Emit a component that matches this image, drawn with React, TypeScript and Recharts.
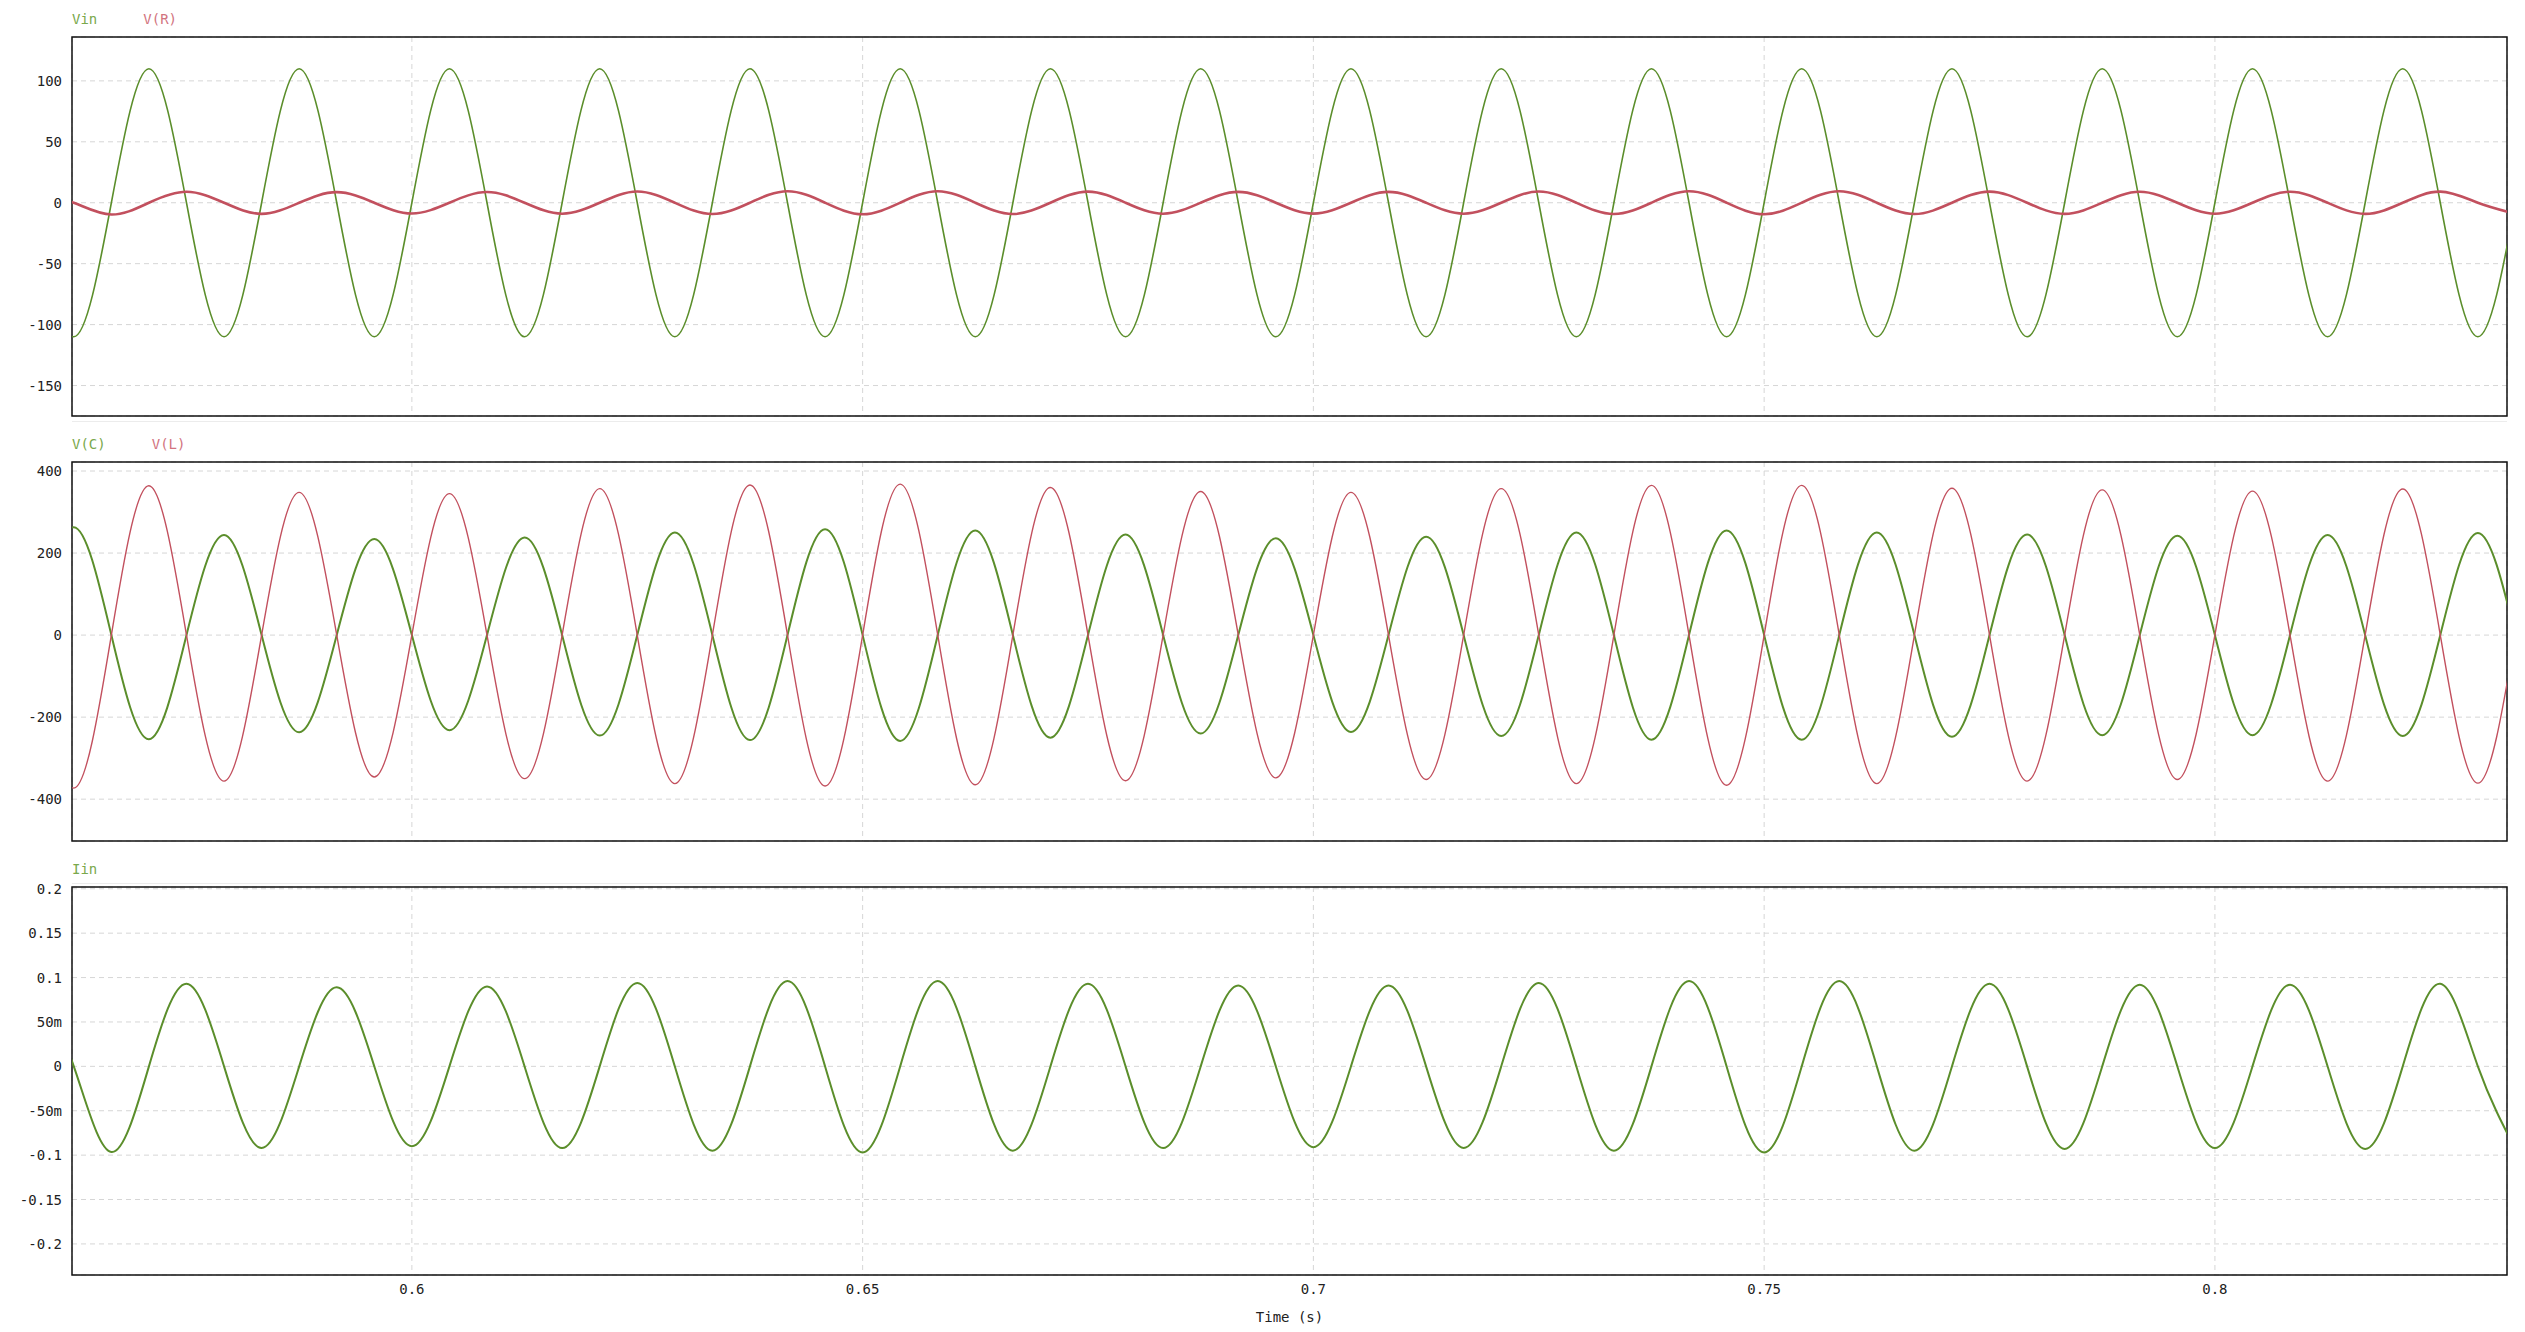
import React from "react";
import { CartesianGrid, Line, LineChart, ReferenceArea, XAxis, YAxis } from "recharts";

// sample grid: quarter periods of the 60 Hz source, starting on a Vin trough
const T_START = 0.5625;
const STEP = 1 / 240;

const X_DOMAIN = [0.5623, 0.8324];
const X_TICKS = [0.6, 0.65, 0.7, 0.75, 0.8];

// extremes on even samples (0, 2, 4 ... 64); odd samples are zero crossings
const VIN_PEAKS = [
  -110, 110, -110, 110, -110, 110, -110, 110, -110, 110, -110, 110, -110, 110, -110, 110, -110,
  110, -110, 110, -110, 110, -110, 110, -110, 110, -110, 110, -110, 110, -110, 110, -110,
];
const VC_PEAKS = [
  263, -254, 244, -237, 234, -232, 238, -245, 250, -256, 258, -258, 255, -250, 245, -240, 236,
  -236, 240, -246, 250, -255, 255, -255, 250, -248, 245, -244, 242, -244, 244, -246, 249,
];
const VL_PEAKS = [
  -373, 364, -356, 348, -346, 345, -350, 357, -362, 366, -368, 368, -365, 360, -355, 350, -348,
  348, -352, 357, -362, 365, -366, 365, -362, 358, -356, 354, -352, 351, -356, 356, -361,
];

// extremes on odd samples (-1, 1, 3 ... 65); even samples are zero crossings
const VR_PEAKS = [
  9.2, -9.7, 9.0, -9.1, 8.7, -8.8, 8.8, -9.0, 9.2, -9.3, 9.4, -9.5, 9.4, -9.3, 9.1, -9.0, 8.9,
  -8.9, 8.9, -9.0, 9.2, -9.3, 9.4, -9.5, 9.4, -9.3, 9.1, -9.1, 9.0, -9.0, 9.0, -9.1, 9.1, -9.1,
];
const IIN_PEAKS = [
  0.094, -0.0965, 0.093, -0.092, 0.089, -0.09, 0.09, -0.092, 0.094, -0.095, 0.096, -0.097, 0.096,
  -0.095, 0.093, -0.092, 0.091, -0.091, 0.091, -0.092, 0.094, -0.095, 0.096, -0.097, 0.096, -0.095,
  0.093, -0.093, 0.092, -0.092, 0.092, -0.093, 0.093, -0.093,
];

const V_DOMAIN = [-175, 136];
const V_TICKS = [-150, -100, -50, 0, 50, 100];
const LC_DOMAIN = [-502, 422];
const LC_TICKS = [-400, -200, 0, 200, 400];
const I_DOMAIN = [-0.235, 0.202];
const I_TICKS = [-0.2, -0.15, -0.1, -0.05, 0, 0.05, 0.1, 0.15, 0.2];
const I_LABELS = ["-0.2", "-0.15", "-0.1", "-50m", "0", "50m", "0.1", "0.15", "0.2"];

const GREEN = "#5b8e2b";
const RED = "#c2505e";
const GREEN_TEXT = "#79a84c";
const RED_TEXT = "#d27480";
const FONT = "'DejaVu Sans Mono', 'Liberation Mono', monospace";

const data: Record<string, number>[] = [];
for (let j = -1; j <= 65; j++) {
  const even = j % 2 === 0;
  const k = even ? j / 2 : (j + 1) / 2;
  data.push({
    t: T_START + j * STEP,
    vin: even ? VIN_PEAKS[k] : 0,
    vc: even ? VC_PEAKS[k] : 0,
    vl: even ? VL_PEAKS[k] : 0,
    vr: even ? 0 : VR_PEAKS[k],
    iin: even ? 0 : IIN_PEAKS[k],
  });
}

const tickStyle = { fontSize: 14, fill: "#222", fontFamily: FONT };

function LegendRow({ items }: { items: { name: string; color: string }[] }) {
  return (
    <div style={{ position: "absolute", left: 72, top: 11, display: "flex", fontSize: 14, fontFamily: FONT }}>
      {items.map((it) => (
        <span key={it.name} style={{ color: it.color, marginRight: 46 }}>
          {it.name}
        </span>
      ))}
    </div>
  );
}

function Panel({
  top,
  height,
  marginTop,
  domain,
  ticks,
  labels,
  showX,
  legend,
  children,
}: {
  top: number;
  height: number;
  marginTop: number;
  domain: number[];
  ticks: number[];
  labels?: string[];
  showX: boolean;
  legend: { name: string; color: string }[];
  children: React.ReactNode;
}) {
  return (
    <div style={{ position: "absolute", left: 0, top, width: 2525, height }}>
      <div style={{ position: "absolute", left: 0, top: marginTop - 37, width: 2525, height: 40 }}>
        <LegendRow items={legend} />
      </div>
      <LineChart
        width={2525}
        height={height}
        data={data}
        margin={{ top: marginTop, right: 18, bottom: showX ? 0 : 4, left: 0 }}
      >
        <CartesianGrid stroke="#d6d6d6" strokeDasharray="5 4" />
        <XAxis
          dataKey="t"
          type="number"
          domain={X_DOMAIN}
          ticks={X_TICKS}
          allowDataOverflow
          hide={!showX}
          height={57}
          axisLine={false}
          tickLine={false}
          tickMargin={3}
          tick={tickStyle}
          tickFormatter={(v) => String(v)}
          label={{ value: "Time (s)", position: "insideBottom", offset: 10, style: tickStyle }}
        />
        <YAxis
          type="number"
          domain={domain}
          ticks={ticks}
          allowDataOverflow
          width={72}
          axisLine={false}
          tickLine={false}
          tickMargin={4}
          tick={tickStyle}
          tickFormatter={(v, i) => (labels ? labels[ticks.indexOf(v)] ?? String(v) : String(v))}
        />
        {children}
        <ReferenceArea
          x1={X_DOMAIN[0]}
          x2={X_DOMAIN[1]}
          y1={domain[0]}
          y2={domain[1]}
          fill="none"
          stroke="#111"
          strokeWidth={1.5}
          ifOverflow="visible"
        />
      </LineChart>
    </div>
  );
}

export default function App() {
  return (
    <div style={{ position: "fixed", left: 0, top: 0, width: 2525, height: 1332, background: "#fff" }}>
      <Panel
        top={0}
        height={420}
        marginTop={37}
        domain={V_DOMAIN}
        ticks={V_TICKS}
        showX={false}
        legend={[
          { name: "Vin", color: GREEN_TEXT },
          { name: "V(R)", color: RED_TEXT },
        ]}
      >
        <Line type="natural" dataKey="vin" stroke={GREEN} strokeWidth={1.6} dot={false} isAnimationActive={false} />
        <Line type="natural" dataKey="vr" stroke={RED} strokeWidth={2.6} dot={false} isAnimationActive={false} />
      </Panel>
      <div style={{ position: "absolute", left: 72, top: 421, width: 2435, borderTop: "1px solid #ececec" }} />
      <Panel
        top={420}
        height={425}
        marginTop={42}
        domain={LC_DOMAIN}
        ticks={LC_TICKS}
        showX={false}
        legend={[
          { name: "V(C)", color: GREEN_TEXT },
          { name: "V(L)", color: RED_TEXT },
        ]}
      >
        <Line type="natural" dataKey="vc" stroke={GREEN} strokeWidth={2} dot={false} isAnimationActive={false} />
        <Line type="natural" dataKey="vl" stroke={RED} strokeWidth={1.4} dot={false} isAnimationActive={false} />
      </Panel>
      <div style={{ position: "absolute", left: 72, top: 883, width: 2435, borderTop: "1px solid #ececec" }} />
      <Panel
        top={845}
        height={487}
        marginTop={42}
        domain={I_DOMAIN}
        ticks={I_TICKS}
        labels={I_LABELS}
        showX={true}
        legend={[{ name: "Iin", color: GREEN_TEXT }]}
      >
        <Line type="natural" dataKey="iin" stroke={GREEN} strokeWidth={2} dot={false} isAnimationActive={false} />
      </Panel>
    </div>
  );
}
